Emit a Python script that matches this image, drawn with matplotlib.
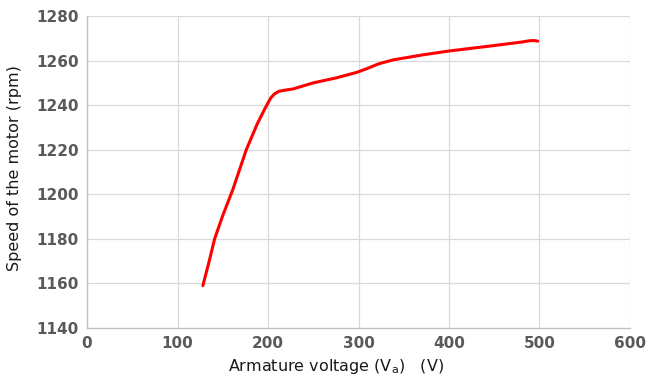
import matplotlib.pyplot as plt

# values
voltage = [128, 135, 141, 150, 161, 176, 188, 196, 200, 203, 207, 212, 220,
           228, 250, 275, 298, 310, 322, 338, 370, 400, 445, 480, 489, 494,
           498]
speed = [1159, 1170, 1180, 1190.5, 1202, 1220, 1231.5, 1238, 1241, 1243.2,
         1245, 1246.2, 1246.8, 1247.3, 1250, 1252.2, 1254.7, 1256.5, 1258.5,
         1260.3, 1262.5, 1264.3, 1266.5, 1268.3, 1268.9, 1269, 1268.7]

x_ticks = [0, 100, 200, 300, 400, 500, 600]
y_ticks = [1140, 1160, 1180, 1200, 1220, 1240, 1260, 1280]

plt.rcParams['font.family'] = ['DejaVu Sans']

fig = plt.figure(figsize=(6.47, 3.81), dpi=100)
ax = fig.add_axes([0.1345, 0.139, 0.8392, 0.819])

ax.plot(voltage, speed, color='#ff0000', lw=2.2, solid_capstyle='round',
        solid_joinstyle='round')

ax.set_xlim(0, 600)
ax.set_ylim(1140, 1280)
ax.set_xticks(x_ticks)
ax.set_yticks(y_ticks)
ax.grid(True, color='#d9d9d9', lw=0.9)
ax.set_axisbelow(True)

for s in ['top', 'right']:
    ax.spines[s].set_visible(False)
for s in ['left', 'bottom']:
    ax.spines[s].set_color('#bfbfbf')
    ax.spines[s].set_linewidth(0.9)

ax.tick_params(length=0, labelsize=11, labelcolor='#595959', pad=6)
for lab in ax.get_xticklabels() + ax.get_yticklabels():
    lab.set_fontweight('bold')

ax.set_xlabel('Armature voltage (V$_\\mathregular{a}$)   (V)', fontsize=11.5,
              color='#1a1a1a')
ax.xaxis.set_label_coords(0.4586, -0.094)
ax.set_ylabel('Speed of the motor (rpm)', fontsize=11.5, color='#1a1a1a')
ax.yaxis.set_label_coords(-0.12, 0.514)

fig.savefig('out.png', dpi=100)
